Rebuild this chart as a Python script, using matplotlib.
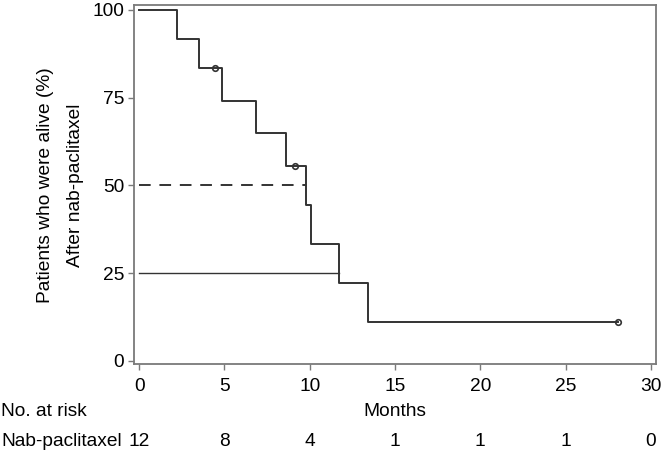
import matplotlib
matplotlib.use("Agg")
import matplotlib.pyplot as plt
import matplotlib.transforms as mt

plt.rcParams['font.family'] = ['Liberation Sans', 'DejaVu Sans']

# Kaplan-Meier step data (months, % alive)
step_times = [0, 2.2, 3.5, 4.85, 6.85, 8.6, 9.8, 10.1, 11.7, 13.4, 28.05]
step_surv = [100, 91.67, 83.33, 74.07, 64.81, 55.56, 44.44, 33.33, 22.22, 11.11, 11.11]
censor_times = [4.45, 9.15, 28.05]
censor_surv = [83.33, 55.56, 11.11]

median_time = 9.8
q25_time = 11.7

xticks = [0, 5, 10, 15, 20, 25, 30]
yticks = [0, 25, 50, 75, 100]
at_risk = [12, 8, 4, 1, 1, 1, 0]
group_name = "Nab-paclitaxel"

line_col = '#333333'
spine_col = '#7a7a7a'
FS = 13.8

fig = plt.figure(figsize=(6.64, 4.53), dpi=100)
ax = fig.add_axes([134/664, 1-364/453, (656-134)/664, (364-5)/453])

ax.step(step_times, step_surv, where='post', color=line_col, lw=1.4)
ax.plot(censor_times, censor_surv, 'o', mfc='none', mec=line_col, ms=4, mew=1.2)

ax.plot([0, median_time], [50, 50], color=line_col, lw=1.4, dashes=(6, 4.5))
ax.plot([0, q25_time], [25, 25], color=line_col, lw=1.0)

ax.set_xlim(-0.3, 30.3)
ax.set_ylim(-0.9, 101.4)
ax.set_xticks(xticks)
ax.set_yticks(yticks)
ax.set_xticklabels([str(t) for t in xticks], fontsize=FS)
ax.set_yticklabels([str(t) for t in yticks], fontsize=FS)
ax.tick_params(direction='out', length=4, width=1, color=spine_col)
ax.tick_params(axis='x', pad=6)
ax.tick_params(axis='y', pad=3)
for s in ax.spines.values():
    s.set_color(spine_col)
    s.set_linewidth(1.3)

fig.text(46/664, 1-185/453, "Patients who were alive (%)", rotation=90,
         ha='center', va='center', fontsize=FS)
fig.text(75/664, 1-185/453, "After nab-paclitaxel", rotation=90,
         ha='center', va='center', fontsize=FS)

# risk table
blend = mt.blended_transform_factory(ax.transData, fig.transFigure)
fig.text(1/664, 1-411/453, "No. at risk", ha='left', va='center', fontsize=FS)
ax.text(15, 1-411/453, "Months", transform=blend, ha='center', va='center', fontsize=FS)
fig.text(1/664, 1-441/453, group_name, ha='left', va='center', fontsize=FS)
for t, n in zip(xticks, at_risk):
    ax.text(t, 1-441/453, str(n), transform=blend, ha='center', va='center',
            fontsize=FS, clip_on=False)

fig.savefig("out.png", dpi=100)
